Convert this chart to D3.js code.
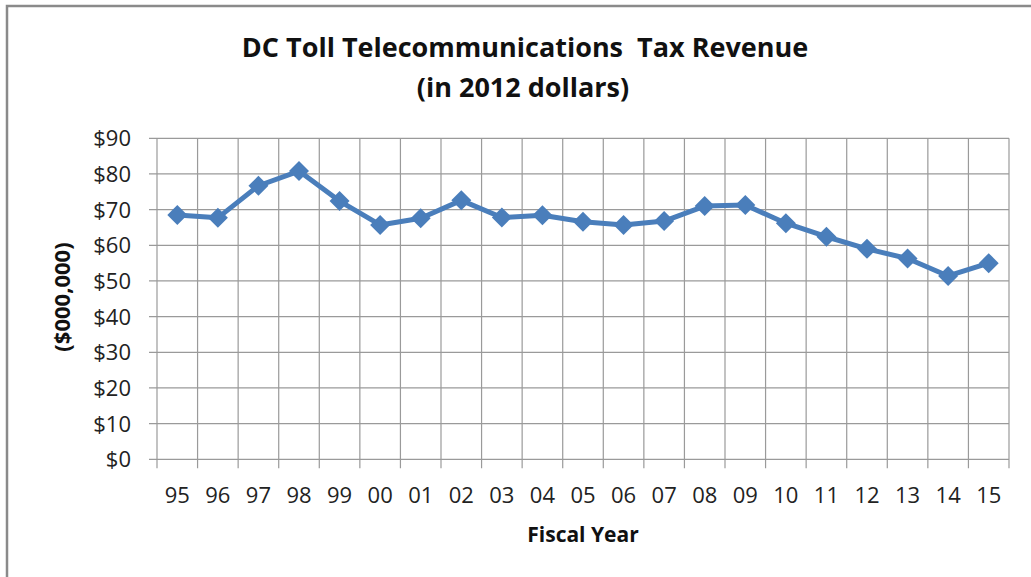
<!DOCTYPE html>
<html>
<head>
<meta charset="utf-8">
<title>DC Toll Telecommunications Tax Revenue</title>
<script src="https://cdnjs.cloudflare.com/ajax/libs/d3/7.8.5/d3.min.js"></script>
<style>
  body { margin: 0; background: #fff; }
  svg { display: block; font-family: "Open Sans", "Liberation Sans", sans-serif; }
</style>
</head>
<body>
<div id="chart"></div>
<script>
// fiscal years and revenue (millions of 2012 dollars)
var years = ["95","96","97","98","99","00","01","02","03","04","05","06","07","08","09","10","11","12","13","14","15"];
var revenue = [68.5, 67.7, 76.7, 80.8, 72.4, 65.7, 67.6, 72.6, 67.8, 68.4, 66.6, 65.7, 66.8, 71.0, 71.3, 66.2, 62.4, 59.0, 56.3, 51.4, 55.0];
var yTicks = [0, 10, 20, 30, 40, 50, 60, 70, 80, 90];

var W = 1031, H = 577;
var plotL = 157, plotR = 1009, plotT = 138.3, plotB = 459.3;

var svg = d3.select("#chart").append("svg")
    .attr("width", W)
    .attr("height", H);

// outer frame (runs off the right / bottom edge)
svg.append("rect")
    .attr("x", 7).attr("y", 6)
    .attr("width", W + 20).attr("height", H + 20)
    .attr("fill", "#fff")
    .attr("stroke", "#8a8a8a")
    .attr("stroke-width", 2.5);

var x = d3.scaleBand().domain(years).range([plotL, plotR]).padding(0);
var y = d3.scaleLinear().domain([0, 90]).range([plotB, plotT]);

// horizontal grid
svg.append("g")
    .selectAll("line")
    .data(yTicks)
    .join("line")
    .attr("x1", plotL - 8).attr("x2", plotR)
    .attr("y1", function(d) { return y(d); })
    .attr("y2", function(d) { return y(d); })
    .attr("stroke", "#9a9a9a")
    .attr("stroke-width", 1.2);

// vertical grid at band edges
var edges = years.map(function(d) { return x(d); }).concat([plotR]);
svg.append("g")
    .selectAll("line")
    .data(edges)
    .join("line")
    .attr("x1", function(d) { return d; })
    .attr("x2", function(d) { return d; })
    .attr("y1", plotT).attr("y2", plotB + 9)
    .attr("stroke", "#9a9a9a")
    .attr("stroke-width", 1.2);

// y tick labels
svg.append("g")
    .selectAll("text")
    .data(yTicks)
    .join("text")
    .attr("x", 131)
    .attr("y", function(d) { return y(d); })
    .attr("dy", "0.36em")
    .attr("text-anchor", "end")
    .attr("font-size", 22)
    .attr("fill", "#222")
    .text(function(d) { return "$" + d; });

// x tick labels
svg.append("g")
    .selectAll("text")
    .data(years)
    .join("text")
    .attr("x", function(d) { return x(d) + x.bandwidth() / 2; })
    .attr("y", 503)
    .attr("text-anchor", "middle")
    .attr("font-size", 22)
    .attr("fill", "#222")
    .text(function(d) { return d; });

// line
var line = d3.line()
    .x(function(d, i) { return x(years[i]) + x.bandwidth() / 2; })
    .y(function(d) { return y(d); });

svg.append("path")
    .datum(revenue)
    .attr("d", line)
    .attr("fill", "none")
    .attr("stroke", "#4a7ebb")
    .attr("stroke-width", 5)
    .attr("stroke-linejoin", "round");

// diamond markers
var diamond = d3.symbol().type(d3.symbolSquare).size(200);
svg.append("g")
    .selectAll("path")
    .data(revenue)
    .join("path")
    .attr("d", diamond)
    .attr("transform", function(d, i) {
        return "translate(" + (x(years[i]) + x.bandwidth() / 2) + "," + y(d) + ") rotate(45)";
    })
    .attr("fill", "#4a7ebb");

// titles
svg.append("text")
    .attr("x", 525).attr("y", 57)
    .attr("text-anchor", "middle")
    .attr("font-size", 27).attr("font-weight", "bold")
    .attr("fill", "#111")
    .attr("xml:space", "preserve")
    .text("DC Toll Telecommunications  Tax Revenue");

svg.append("text")
    .attr("x", 523).attr("y", 97)
    .attr("text-anchor", "middle")
    .attr("font-size", 27).attr("font-weight", "bold")
    .attr("fill", "#111")
    .text("(in 2012 dollars)");

svg.append("text")
    .attr("x", 583).attr("y", 542)
    .attr("text-anchor", "middle")
    .attr("font-size", 21).attr("font-weight", "bold")
    .attr("fill", "#111")
    .text("Fiscal Year");

svg.append("text")
    .attr("transform", "translate(70,297) rotate(-90)")
    .attr("text-anchor", "middle")
    .attr("font-size", 22).attr("font-weight", "bold")
    .attr("fill", "#111")
    .text("($000,000)");
</script>
</body>
</html>
